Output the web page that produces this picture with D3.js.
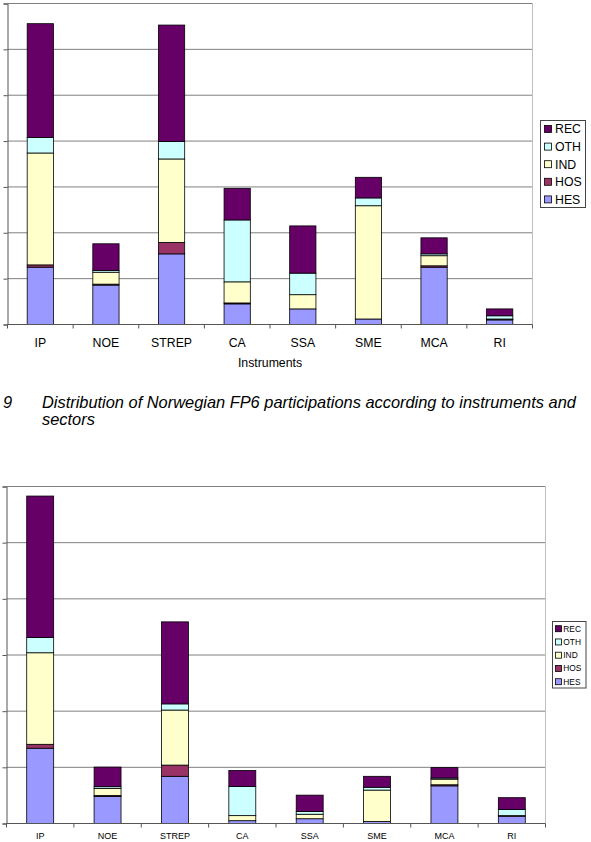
<!DOCTYPE html>
<html><head><meta charset="utf-8">
<script src="https://cdn.jsdelivr.net/npm/d3@7"></script>
<style>html,body{margin:0;padding:0;background:#fff;} svg{display:block;font-family:"Liberation Sans",Arial,sans-serif;}</style>
</head><body>
<svg id="c" width="591" height="842"></svg>
<script>
const categories = ["IP","NOE","STREP","CA","SSA","SME","MCA","RI"];
const sectors = ["HES","HOS","IND","OTH","REC"];
const colors = ["#9999FF","#993366","#FFFFCC","#CCFFFF","#660066"];
// Top chart values (per sector, in category order)
const topHES = [12.5, 8.6, 15.4, 4.5, 3.4, 1.2, 12.5, 1.0];
const topHOS = [0.5, 0.2, 2.5, 0.2, 0, 0, 0.3, 0.1];
const topIND = [24.4, 2.6, 18.2, 4.6, 3.1, 24.7, 2.2, 0.1];
const topOTH = [3.4, 0.4, 3.8, 13.5, 4.7, 1.7, 0.4, 0.7];
const topREC = [24.8, 5.8, 25.4, 6.9, 10.3, 4.5, 3.5, 1.5];
// Bottom chart values
const botHES = [13.4, 4.8, 8.4, 0.5, 0.85, 0.35, 6.7, 1.3];
const botHOS = [0.7, 0.2, 2.0, 0, 0, 0, 0.2, 0.1];
const botIND = [16.3, 1.25, 9.8, 0.9, 0.8, 5.6, 1.0, 0];
const botOTH = [2.7, 0.3, 1.1, 5.2, 0.5, 0.5, 0.2, 1.1];
const botREC = [25.2, 3.5, 14.6, 2.85, 2.9, 1.95, 1.85, 2.1];
const topTicks = [0,10,20,30,40,50,60,70];
const botTicks = [0,10,20,30,40,50,60];
const xTitle = "Instruments";
const captionNum = "9";
const captionLines = ["Distribution of Norwegian FP6 participations according to instruments and","sectors"];

const svg = d3.select("#c");

function drawChart(o){
  const g = svg.append("g");
  const rows = categories.map((c,i)=>{
    const r = {cat:c};
    sectors.forEach((s,j)=>{ r[s] = o.series[j][i]; });
    return r;
  });
  const stack = d3.stack().keys(sectors)(rows);
  const x = d3.scaleBand().domain(categories).range([o.x0,o.x1]).paddingInner(0.6).paddingOuter(0.3);
  const y = d3.scaleLinear().domain([0,d3.max(o.ticks)]).range([o.y1,o.y0]);
  const color = d3.scaleOrdinal().domain(sectors).range(colors);

  g.append("g").selectAll("line").data(o.ticks.filter(t=>t>0)).join("line")
    .attr("x1",o.x0).attr("x2",o.x1).attr("y1",d=>y(d)).attr("y2",d=>y(d))
    .attr("stroke","#808080").attr("stroke-width",1);
  g.append("line").attr("x1",o.x1).attr("x2",o.x1).attr("y1",o.y0).attr("y2",o.y1)
    .attr("stroke","#c0c0c0").attr("stroke-width",1);

  g.append("g").selectAll("g").data(stack).join("g")
    .attr("fill",d=>color(d.key))
    .selectAll("rect").data(d=>d).join("rect")
    .attr("x",d=>x(d.data.cat)).attr("width",x.bandwidth())
    .attr("y",d=>y(d[1])).attr("height",d=>Math.max(0,y(d[0])-y(d[1])))
    .attr("stroke","#000").attr("stroke-width",0.8);

  const ya = d3.axisLeft(y).tickValues(o.ticks).tickSize(4).tickFormat("");
  const yg = g.append("g").attr("transform",`translate(${o.x0},0)`).call(ya);
  yg.select(".domain").attr("stroke","#555");
  yg.selectAll(".tick line").attr("stroke","#555");

  g.append("line").attr("x1",o.x0).attr("x2",o.x1).attr("y1",o.y1).attr("y2",o.y1).attr("stroke","#555");
  const step = x.step();
  const bnds = d3.range(categories.length+1).map(i=>o.x0+i*step);
  g.append("g").selectAll("line").data(bnds).join("line")
    .attr("x1",d=>d).attr("x2",d=>d).attr("y1",o.y1).attr("y2",o.y1+4).attr("stroke","#555");
  g.append("g").selectAll("text").data(categories).join("text")
    .attr("x",d=>x(d)+x.bandwidth()/2).attr("y",o.labelY)
    .attr("text-anchor","middle").attr("font-size",o.fs).text(d=>d);
  if(o.title){
    g.append("text").attr("x",(o.x0+o.x1)/2).attr("y",o.titleY).attr("text-anchor","middle")
      .attr("font-size",o.fs).text(o.title);
  }

  const L = o.legend;
  g.append("rect").attr("x",L.x).attr("y",L.y).attr("width",L.w).attr("height",L.h)
    .attr("fill","#fff").attr("stroke","#444").attr("stroke-width",1);
  const items = sectors.slice().reverse();
  const lg = g.append("g").selectAll("g").data(items).join("g")
    .attr("transform",(d,i)=>`translate(0,${L.firstY + i*L.dy})`);
  lg.append("rect").attr("x",L.sx).attr("y",-L.ss/2).attr("width",L.ss).attr("height",L.ss)
    .attr("fill",d=>color(d)).attr("stroke","#000").attr("stroke-width",0.8);
  lg.append("text").attr("x",L.tx).attr("y",L.fs*0.36).attr("font-size",L.fs).text(d=>d);
}

drawChart({
  series:[topHES,topHOS,topIND,topOTH,topREC], ticks:topTicks,
  x0:7.5, x1:532.5, y0:3.5, y1:324.5, labelY:346.7, fs:12.3, title:xTitle, titleY:367,
  legend:{x:540.5,y:120.5,w:45,h:87,firstY:129,dy:17.6,sx:544.5,ss:7,tx:555,fs:12.3}
});

drawChart({
  series:[botHES,botHOS,botIND,botOTH,botREC], ticks:botTicks,
  x0:6.5, x1:545.5, y0:486.5, y1:823.5, labelY:838.5, fs:9, title:null,
  legend:{x:552.5,y:621.5,w:33.5,h:66.5,firstY:628.7,dy:13.25,sx:555.5,ss:6,tx:563.3,fs:8.4}
});

svg.append("text").attr("x",3).attr("y",407.5).attr("font-size",16.4).attr("font-style","italic").text(captionNum);
svg.append("g").selectAll("text").data(captionLines).join("text")
  .attr("x",42).attr("y",(d,i)=>407.5+i*17.5).attr("font-size",16.4).attr("font-style","italic").text(d=>d);
</script>
</body></html>
